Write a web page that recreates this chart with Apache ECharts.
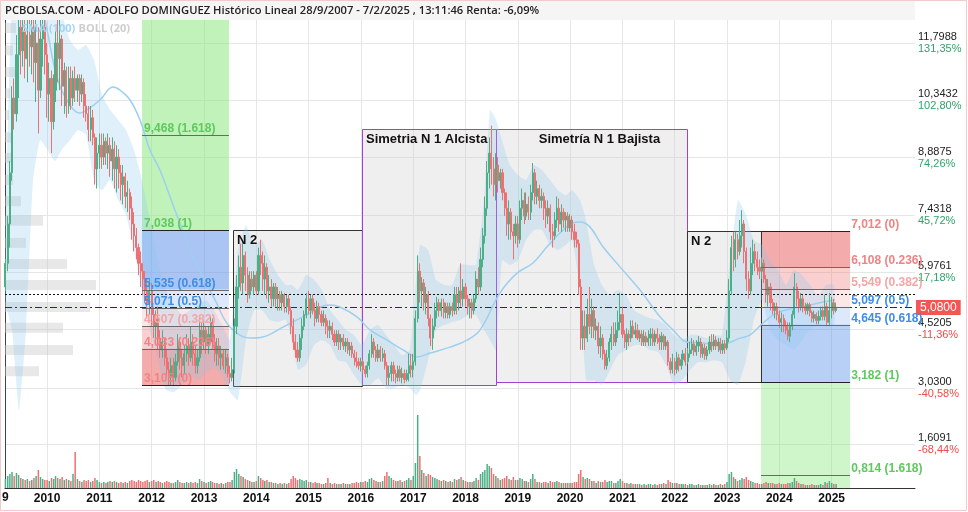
<!DOCTYPE html>
<html><head><meta charset="utf-8">
<script src="https://cdn.jsdelivr.net/npm/echarts@6/dist/echarts.min.js"></script>
<style>html,body{margin:0;padding:0;background:#fff}#c{width:968px;height:512px}</style>
</head><body><div id="c"></div>
<script>
// ---------------- DATA ----------------
const titleText = 'PCBOLSA.COM - ADOLFO DOMINGUEZ Histórico Lineal 28/9/2007 - 7/2/2025 , 13:11:46 Renta: -6,09%';
const firstCandle = [2009, 2, 1]; // year, month index, half (1 = 16th)
// candles per half-month: [open, close, low, high, volume]
const c2009 = [[5.6,6.2,5.5,6.3,9],[6.2,7.2,6.0,7.4,12],[7.2,8.5,6.6,8.8,14],[8.5,10.4,8.3,10.7,16],[10.4,10.0,9.6,10.9,12],[10.0,11.5,9.8,12.0,15],[11.5,12.2,10.4,12.6,13],[12.2,11.6,11.0,12.7,10],[11.6,12.1,11.2,12.6,9],[12.1,11.4,10.9,12.5,8],[11.4,12.0,10.8,12.4,9],[12.0,11.7,11.2,12.6,7],[11.7,12.2,11.0,12.7,8],[12.2,11.3,10.8,12.5,10],[11.3,11.8,10.3,12.4,12],[11.8,10.6,9.5,12.2,18],[10.6,11.9,10.4,12.4,11],[11.9,12.2,11.2,12.7,9],[12.2,11.5,11.0,12.6,8]];
const c2010 = [[11.5,10.5,9.9,11.8,8],[10.5,10.9,9.8,11.3,7],[10.9,9.8,9.0,11.1,10],[9.8,10.6,9.6,11.0,9],[10.6,11.8,10.3,12.1,12],[11.8,11.4,10.8,12.6,10],[11.4,11.9,10.6,12.5,9],[11.9,10.7,10.2,12.0,11],[10.7,11.1,10.0,11.3,8],[11.1,10.2,9.9,11.2,9],[10.2,10.9,10.0,11.2,8],[10.9,10.4,10.1,11.2,7],[10.4,10.9,10.2,11.1,14],[10.9,10.6,10.3,11.2,36],[10.6,10.9,10.3,11.0,9],[10.9,10.5,10.2,11.0,7],[10.5,10.8,10.3,11.0,6],[10.8,10.2,9.9,10.9,8],[10.2,10.0,9.8,10.5,7],[10.0,9.6,9.3,10.2,8],[9.6,9.9,9.3,10.2,6],[9.9,9.4,9.2,10.1,7],[9.4,8.6,8.2,9.5,10],[8.6,9.0,8.1,9.4,8]];
const c2011 = [[9.0,9.2,8.6,9.5,6],[9.2,8.9,8.6,9.5,5],[8.9,9.3,8.7,9.5,6],[9.3,9.0,8.7,9.4,5],[9.0,9.2,8.6,9.5,6],[9.2,8.8,8.4,9.4,7],[8.8,9.1,8.3,9.4,6],[9.1,8.6,8.1,9.3,7],[8.6,8.9,8.0,9.2,6],[8.9,8.5,8.1,9.1,5],[8.5,8.2,7.8,8.7,6],[8.2,8.4,7.7,8.7,5],[8.4,7.9,7.6,8.5,6],[7.9,8.0,7.5,8.3,5],[8.0,7.6,7.3,8.1,7],[7.6,7.2,6.8,7.9,8],[7.2,6.9,6.5,7.5,7],[6.9,6.6,6.3,7.1,6],[6.6,6.2,5.9,6.7,8],[6.2,6.0,5.6,6.5,7],[6.0,5.8,5.4,6.2,6],[5.8,5.5,5.2,6.0,7],[5.5,5.2,4.8,5.8,8],[5.2,5.5,4.9,5.8,6]];
const c2012 = [[5.5,4.9,4.6,5.7,7],[4.9,4.6,4.3,5.1,8],[4.6,4.8,4.2,5.0,6],[4.8,4.3,4.0,5.1,7],[4.3,4.0,3.8,4.5,6],[4.0,4.2,3.8,4.5,5],[4.2,3.8,3.6,4.3,6],[3.8,3.5,3.3,4.0,7],[3.5,3.3,3.1,3.7,6],[3.3,3.6,3.1,3.8,5],[3.6,3.3,3.1,3.8,5],[3.3,3.7,3.2,3.9,6],[3.7,4.2,3.6,4.4,8],[4.2,3.8,3.5,4.3,6],[3.8,3.6,3.3,4.0,5],[3.6,3.9,3.4,4.1,5],[3.9,4.1,3.7,4.4,6],[4.1,3.8,3.6,4.3,5],[3.8,4.2,3.7,4.6,6],[4.2,3.9,3.6,4.4,5],[3.9,3.6,3.4,4.1,6],[3.6,3.8,3.4,4.0,5],[3.8,4.5,3.7,4.8,9],[4.5,4.2,3.9,4.7,7]];
const c2013 = [[4.2,4.5,4.0,4.7,6],[4.5,4.1,3.9,4.6,5],[4.1,4.4,3.9,4.6,6],[4.4,4.7,4.2,4.85,7],[4.7,4.2,4.0,4.8,6],[4.2,3.9,3.7,4.4,5],[3.9,4.1,3.6,4.3,5],[4.1,3.8,3.6,4.3,4],[3.8,3.9,3.5,4.1,5],[3.9,3.6,3.5,4.0,4],[3.6,3.8,3.4,4.0,5],[3.8,3.4,3.3,3.9,6],[3.4,3.3,3.15,3.6,6],[3.3,3.5,3.2,3.8,8],[3.5,4.6,3.4,4.8,16],[4.6,5.6,4.4,5.9,19],[5.6,6.1,5.3,6.4,14],[6.1,5.7,5.5,6.7,12],[5.7,6.4,5.4,6.75,11],[6.4,5.9,5.5,6.5,9],[5.9,5.4,5.2,6.1,8],[5.4,5.8,5.3,6.0,7],[5.8,5.6,5.5,6.0,6],[5.6,5.9,5.4,6.0,6]];
const c2014 = [[5.9,5.5,5.4,6.0,7],[5.5,6.4,5.4,6.6,12],[6.4,6.2,5.9,6.8,10],[6.2,5.8,5.5,6.5,8],[5.8,6.1,5.4,6.4,7],[6.1,5.5,5.3,6.2,8],[5.5,5.6,5.2,5.9,6],[5.6,5.3,5.1,5.8,6],[5.3,5.6,5.1,5.7,5],[5.6,5.3,5.1,5.7,5],[5.3,5.4,5.0,5.6,4],[5.4,5.2,5.0,5.5,5],[5.2,5.4,5.0,5.5,4],[5.4,5.1,4.95,5.45,5],[5.1,5.3,4.95,5.4,4],[5.3,5.0,4.9,5.4,5],[5.0,4.6,4.4,5.1,9],[4.6,4.2,4.0,4.8,12],[4.2,4.0,3.8,4.4,10],[4.0,3.8,3.7,4.2,8],[3.8,4.3,3.7,4.4,9],[4.3,4.6,4.0,4.8,8],[4.6,4.9,4.5,5.0,7],[4.9,5.3,4.8,5.45,8]];
const c2015 = [[5.3,5.0,4.9,5.5,6],[5.0,5.3,4.8,5.4,6],[5.3,5.0,4.9,5.4,5],[5.0,4.8,4.6,5.2,6],[4.8,5.1,4.7,5.25,5],[5.1,4.9,4.7,5.2,5],[4.9,4.7,4.6,5.0,4],[4.7,4.8,4.6,5.0,4],[4.8,4.6,4.4,4.9,5],[4.6,4.5,4.3,4.75,10],[4.5,4.6,4.3,4.75,5],[4.6,4.4,4.25,4.7,4],[4.4,4.2,4.1,4.5,5],[4.2,4.4,4.1,4.5,4],[4.4,4.2,4.0,4.5,4],[4.2,4.3,4.0,4.4,4],[4.3,4.1,4.0,4.4,5],[4.1,4.2,3.95,4.3,4],[4.2,4.0,3.9,4.3,4],[4.0,4.1,3.85,4.2,4],[4.1,3.9,3.8,4.2,5],[3.9,3.8,3.6,4.0,5],[3.8,3.7,3.55,3.95,6],[3.7,3.6,3.5,3.8,5]];
const c2016 = [[3.6,3.7,3.45,3.8,6],[3.7,3.5,3.4,3.75,6],[3.5,3.4,3.3,3.6,7],[3.4,3.6,3.3,3.7,6],[3.6,3.9,3.5,4.0,9],[3.9,4.2,3.8,4.4,10],[4.2,4.0,3.8,4.3,8],[4.0,3.8,3.7,4.1,7],[3.8,4.0,3.7,4.15,6],[4.0,3.8,3.7,4.1,6],[3.8,3.9,3.7,4.05,7],[3.9,3.6,3.5,4.0,12],[3.6,3.3,3.1,3.7,16],[3.3,3.4,3.1,3.6,12],[3.4,3.6,3.2,3.7,10],[3.6,3.4,3.2,3.7,8],[3.4,3.3,3.15,3.5,7],[3.3,3.5,3.2,3.6,7],[3.5,3.3,3.2,3.6,8],[3.3,3.4,3.15,3.55,6],[3.4,3.25,3.15,3.5,7],[3.25,3.4,3.2,3.5,8],[3.4,3.6,3.2,3.9,10],[3.6,3.5,3.3,3.9,8]];
const c2017 = [[3.5,3.7,3.3,3.9,12],[3.7,4.8,3.6,5.0,25],[4.8,6.0,4.7,6.4,73],[6.0,5.5,5.2,6.2,32],[5.5,5.7,5.1,5.85,18],[5.7,5.2,5.0,5.8,15],[5.2,5.4,4.9,5.6,12],[5.4,4.8,4.6,5.5,14],[4.8,4.3,4.1,4.9,13],[4.3,4.6,4.0,4.8,11],[4.6,5.0,4.5,5.2,10],[5.0,5.2,4.8,5.35,9],[5.2,5.0,4.85,5.3,8],[5.0,5.2,4.85,5.3,7],[5.2,4.95,4.8,5.3,8],[4.95,5.1,4.8,5.2,7],[5.1,4.9,4.8,5.2,6],[4.9,5.1,4.8,5.2,7],[5.1,5.0,4.85,5.2,6],[5.0,5.4,4.9,5.6,9],[5.4,5.2,4.9,5.6,8],[5.2,5.5,5.0,5.6,9],[5.5,5.3,5.1,6.2,11],[5.3,5.6,5.1,5.8,8]];
const c2018 = [[5.6,5.3,5.1,5.7,7],[5.3,5.1,4.9,5.4,6],[5.1,5.2,4.8,5.3,6],[5.2,5.0,4.8,5.3,6],[5.0,5.3,4.9,5.4,7],[5.3,5.8,5.2,6.0,10],[5.8,5.6,5.4,6.1,8],[5.6,6.3,5.5,6.6,14],[6.3,6.9,6.1,7.1,16],[6.9,7.6,6.7,7.9,18],[7.6,8.5,7.4,8.8,24],[8.5,9.0,8.1,9.4,22],[9.0,8.6,8.2,9.7,20],[8.6,8.2,7.9,8.9,14],[8.2,8.7,7.8,9.0,12],[8.7,8.3,8.0,8.9,10],[8.3,8.5,8.1,8.6,8],[8.5,8.0,7.8,8.6,9],[8.0,7.6,7.4,8.1,10],[7.6,7.2,6.9,8.0,12],[7.2,7.5,6.8,7.8,9],[7.5,7.0,6.8,7.6,8],[7.0,6.9,6.3,7.2,11],[6.9,7.2,6.7,7.4,8]];
const c2019 = [[7.2,6.8,6.6,7.4,8],[6.8,7.6,6.7,7.8,10],[7.6,7.8,7.3,8.1,9],[7.8,7.4,7.2,8.0,7],[7.4,7.7,7.3,8.0,7],[7.7,7.5,7.3,7.9,6],[7.5,8.0,7.3,8.2,9],[8.0,8.5,7.8,8.75,14],[8.5,7.9,7.7,8.6,9],[7.9,8.1,7.7,8.3,6],[8.1,7.8,7.6,8.2,6],[7.8,7.9,7.6,8.1,5],[7.9,7.6,7.3,8.0,6],[7.6,7.4,7.1,7.8,6],[7.4,7.6,7.2,7.8,5],[7.6,7.0,6.8,7.7,7],[7.0,6.9,6.6,7.2,6],[6.9,7.3,6.8,7.5,6],[7.3,7.6,7.1,7.9,7],[7.6,7.2,7.0,7.85,6],[7.2,7.5,7.0,7.7,5],[7.5,7.3,7.1,7.6,5],[7.3,7.4,7.0,7.5,5],[7.4,7.1,7.0,7.5,5]];
const c2020 = [[7.1,7.3,7.0,7.45,5],[7.3,7.0,6.8,7.4,5],[7.0,6.8,6.6,7.2,6],[6.8,6.7,6.6,7.0,6],[6.7,5.6,5.4,6.8,14],[5.6,4.3,4.0,5.8,18],[4.3,4.6,4.0,5.0,11],[4.6,4.3,4.0,5.0,9],[4.3,4.9,4.2,5.3,10],[4.9,4.6,4.4,5.6,9],[4.6,5.0,4.3,5.3,7],[5.0,4.5,4.3,5.1,7],[4.5,4.6,4.25,4.8,5],[4.6,4.1,3.9,4.7,7],[4.1,4.3,3.8,4.6,6],[4.3,3.9,3.75,4.4,6],[3.9,3.6,3.5,4.0,8],[3.6,3.8,3.5,4.0,6],[3.8,4.2,3.7,4.3,7],[4.2,4.4,4.0,4.6,7],[4.4,4.2,4.1,4.7,5],[4.2,4.5,4.1,4.7,5],[4.5,4.7,4.3,5.0,7],[4.7,4.9,4.5,5.45,9]];
const c2021 = [[4.9,4.4,4.3,5.1,7],[4.4,4.2,4.05,4.5,5],[4.2,4.4,4.0,4.55,5],[4.4,4.3,4.1,4.5,4],[4.3,4.6,4.2,4.75,5],[4.6,4.4,4.3,4.75,4],[4.4,4.5,4.3,4.7,4],[4.5,4.3,4.25,4.65,4],[4.3,4.4,4.2,4.5,4],[4.4,4.2,4.1,4.5,3],[4.2,4.35,4.1,4.5,4],[4.35,4.2,4.1,4.45,3],[4.2,4.3,4.1,4.5,4],[4.3,4.4,4.1,4.55,4],[4.4,4.2,4.1,4.55,3],[4.2,4.4,4.1,4.5,4],[4.4,4.3,4.15,4.55,3],[4.3,4.2,4.0,4.4,4],[4.2,4.35,4.0,4.45,4],[4.35,4.1,4.0,4.4,5],[4.1,4.2,4.0,4.35,4],[4.2,3.7,3.6,4.25,8],[3.7,3.5,3.4,3.8,6],[3.5,3.7,3.4,3.9,5]];
const c2022 = [[3.7,3.5,3.35,3.8,5],[3.5,3.8,3.4,3.95,5],[3.8,3.6,3.45,3.9,4],[3.6,3.75,3.5,3.9,4],[3.75,3.9,3.6,4.0,4],[3.9,3.7,3.6,4.05,4],[3.7,3.9,3.65,4.05,3],[3.9,4.0,3.8,4.2,4],[4.0,4.15,3.9,4.3,4],[4.15,3.95,3.85,4.25,3],[3.95,4.1,3.85,4.25,3],[4.1,4.2,3.95,4.35,4],[4.2,3.9,3.8,4.3,3],[3.9,4.05,3.8,4.15,3],[4.05,3.85,3.75,4.15,3],[3.85,4.0,3.75,4.1,3],[4.0,4.2,3.9,4.35,4],[4.2,4.1,3.95,4.4,3],[4.1,4.25,4.0,4.4,4],[4.25,4.1,4.0,4.35,3],[4.1,4.2,3.95,4.3,3],[4.2,4.0,3.9,4.3,4],[4.0,4.15,3.9,4.25,3],[4.15,4.05,3.9,4.25,4]];
const c2023 = [[4.05,4.3,4.0,4.5,6],[4.3,5.5,4.2,5.8,14],[5.5,6.6,5.4,6.9,16],[6.6,6.3,6.0,7.0,11],[6.3,6.8,6.1,7.0,9],[6.8,6.5,6.3,6.95,7],[6.5,6.9,6.4,7.3,8],[6.9,7.2,6.6,7.55,10],[7.2,6.5,6.2,7.3,9],[6.5,5.8,5.5,6.6,11],[5.8,5.5,5.3,6.0,8],[5.5,6.2,5.4,6.6,7],[6.2,6.5,5.9,6.8,6],[6.5,6.3,6.0,6.7,5],[6.3,6.1,5.9,6.5,5],[6.1,6.0,5.8,6.3,4],[6.0,6.2,5.8,6.35,4],[6.2,5.8,5.7,6.3,5],[5.8,5.4,5.2,5.9,6],[5.4,5.6,5.1,5.8,5],[5.6,5.2,5.0,5.7,5],[5.2,5.0,4.9,5.3,5],[5.0,5.1,4.8,5.2,4],[5.1,4.9,4.75,5.2,4]];
const c2024 = [[4.9,4.7,4.55,5.0,5],[4.7,4.8,4.45,4.95,4],[4.8,4.6,4.45,4.9,4],[4.6,4.5,4.4,4.75,4],[4.5,4.35,4.25,4.7,5],[4.35,4.6,4.2,4.7,5],[4.6,4.9,4.5,5.0,6],[4.9,5.6,4.8,5.95,10],[5.6,5.3,5.1,5.7,7],[5.3,5.1,4.95,5.5,5],[5.1,5.3,5.0,5.45,4],[5.3,5.1,4.95,5.4,4],[5.1,5.0,4.9,5.2,3],[5.0,5.15,4.9,5.2,3],[5.15,4.95,4.85,5.2,3],[4.95,4.8,4.7,5.0,4],[4.8,4.9,4.7,5.0,3],[4.9,4.75,4.65,4.95,3],[4.75,4.85,4.65,5.0,3],[4.85,5.0,4.75,5.1,4],[5.0,4.85,4.75,5.1,3],[4.85,5.1,4.75,5.4,6],[5.1,4.7,4.6,5.2,5],[4.7,5.0,4.6,5.45,7]];
const c2025 = [[5.0,5.2,4.8,5.35,5],[5.2,5.0,4.9,5.3,4],[5.0,5.08,4.95,5.2,4]];

const smaDates = ['2009-12-11','2010-01-01','2010-03-10','2010-05-19','2010-08-18','2010-10-07','2011-01-05','2011-04-06','2011-05-25','2011-08-03','2011-10-12','2011-12-20','2012-02-28','2012-06-12','2012-10-29','2013-03-19','2013-07-01','2013-11-18','2014-02-17','2014-07-06','2014-11-23','2015-05-31','2015-08-08','2015-12-05','2016-03-05','2016-07-02','2016-10-22','2017-01-28','2017-04-29','2017-09-15','2018-01-12','2018-04-13','2018-08-30','2018-12-27','2019-04-17','2019-07-24','2019-10-23','2020-01-22','2020-03-11','2020-05-20','2020-08-18','2020-12-15','2021-05-04','2021-09-20','2021-12-20','2022-03-27','2022-06-27','2022-11-13','2023-04-02','2023-06-11','2023-09-09','2023-12-16','2024-04-07','2024-08-03','2024-11-01','2025-01-25'];
const smaValues = [12.5,12.13,10.94,10.35,10.02,10.10,10.35,10.68,10.60,10.35,9.84,9.08,8.57,7.55,6.28,5.27,4.58,4.30,4.33,4.58,4.84,5.14,5.09,4.84,4.51,4.25,4.00,3.82,3.92,4.07,4.25,4.51,5.45,5.95,6.21,6.62,6.97,7.23,7.25,7.12,6.62,6.11,5.52,4.84,4.51,4.20,4.18,4.13,4.30,4.38,4.68,4.94,5.06,5.14,5.22,5.27];

const bollDates = ['2009-03-13','2009-05-01','2009-06-19','2009-08-07','2009-09-25','2009-11-13','2010-01-01','2010-02-25','2010-04-15','2010-06-10','2010-08-05','2010-09-30','2010-11-25','2011-01-20','2011-03-17','2011-05-12','2011-07-06','2011-08-31','2011-10-26','2011-12-20','2012-02-14','2012-04-10','2012-06-04','2012-07-30','2012-09-24','2012-11-19','2013-01-15','2013-03-12','2013-05-07','2013-07-01','2013-08-26','2013-10-21','2013-12-16','2014-02-10','2014-04-07','2014-06-02','2014-07-27','2014-09-07','2014-10-19','2014-12-14','2015-02-08','2015-04-05','2015-05-31','2015-07-25','2015-09-19','2015-11-13','2016-01-09','2016-03-05','2016-04-30','2016-06-25','2016-08-20','2016-10-15','2016-12-09','2017-01-21','2017-02-18','2017-04-15','2017-06-09','2017-08-04','2017-09-29','2017-11-24','2018-01-19','2018-03-15','2018-05-10','2018-06-21','2018-08-02','2018-09-13','2018-11-07','2019-01-03','2019-02-28','2019-04-24','2019-06-19','2019-08-14','2019-10-09','2019-12-03','2020-01-15','2020-03-11','2020-04-22','2020-06-17','2020-08-11','2020-10-06','2020-12-01','2021-01-26','2021-03-23','2021-05-18','2021-07-12','2021-09-06','2021-11-01','2021-12-27','2022-02-21','2022-04-18','2022-06-13','2022-08-08','2022-10-02','2022-11-27','2023-01-22','2023-03-19','2023-05-14','2023-07-08','2023-09-02','2023-10-28','2023-12-23','2024-02-17','2024-04-13','2024-06-08','2024-08-03','2024-09-28','2024-11-23','2025-01-18'];
const bollUpper = [6.8,13.0,13.5,13.5,13.3,13.3,12.7,12.7,12.5,11.87,11.62,11.75,11.37,10.48,10.10,9.84,9.59,9.08,8.32,7.30,6.28,5.52,5.14,4.89,5.01,5.14,5.27,5.01,4.63,4.25,6.54,7.17,6.67,6.79,6.28,5.90,5.65,5.65,5.52,5.90,5.78,5.52,5.01,4.76,4.51,4.38,4.12,4.51,4.63,4.38,4.12,3.87,4.00,5.78,6.66,6.54,5.78,5.65,5.65,6.16,6.16,6.16,7.81,10.10,9.84,9.33,8.70,8.44,8.32,8.70,8.57,8.32,8.06,7.93,8.06,7.81,7.30,6.16,5.65,5.39,5.52,5.39,5.01,4.89,4.81,4.76,4.63,4.38,4.25,4.38,4.38,4.30,4.38,4.38,6.28,7.81,7.43,6.79,6.67,6.28,6.03,5.65,6.03,5.90,5.65,5.39,5.65,5.65];
const bollLower = [5.3,4.51,2.47,4.51,8.32,9.33,9.1,8.8,9.1,9.33,9.59,9.46,8.32,8.06,8.32,7.81,7.43,6.54,5.52,4.51,3.74,2.98,2.93,3.11,3.36,3.23,3.43,3.54,3.36,2.93,2.73,4.25,5.01,5.01,4.76,4.71,4.76,4.25,3.49,3.62,4.12,4.25,4.12,3.74,3.69,3.36,3.11,3.11,3.28,3.03,3.03,3.11,3.03,2.85,2.98,3.74,4.51,4.63,4.71,4.76,4.89,4.89,4.51,4.25,4.00,6.28,6.16,6.28,6.79,7.05,7.05,6.67,6.54,6.67,6.79,5.52,3.23,3.23,3.11,3.49,3.87,4.00,4.12,4.12,4.00,3.95,3.62,3.11,3.23,3.49,3.69,3.69,3.74,3.69,3.23,3.11,3.74,4.76,5.27,4.51,4.25,4.12,4.00,4.25,4.51,4.63,4.63,4.63];

const profilePrices = [12.18,11.61,11.06,10.52,9.97,9.40,8.88,8.32,7.78,7.28,6.72,6.18,5.65,5.09,4.56,4.00,3.46];
const profileVolumes = [11,8,11,5,4,8,7,8,16,38,21,62,91,85,58,68,34];

const priceTicks = [1.6091,3.0300,4.5205,5.9761,7.4318,8.8875,10.3432,11.7988];
const priceTickLabels = ['1,6091','3,0300','4,5205','5,9761','7,4318','8,8875','10,3432','11,7988'];
const pctTickLabels = ['-68,44%','-40,58%','-11,36%','17,18%','45,72%','74,26%','102,80%','131,35%'];
const yearTicks = ['2010-01-01','2011-01-01','2012-01-01','2013-01-01','2014-01-01','2015-01-01','2016-01-01','2017-01-01','2018-01-01','2019-01-01','2020-01-01','2021-01-01','2022-01-01','2023-01-01','2024-01-01','2025-01-01'];
const yearLabels = ['2010','2011','2012','2013','2014','2015','2016','2017','2018','2019','2020','2021','2022','2023','2024','2025'];

const lastPrice = 5.08, lastPriceLabel = '5,0800';
const dottedLevel = 5.41;

const fibLeftRange = ['2011-10-26','2013-06-24'];
const fibLeftLevels = [9.468,7.038,5.535,5.071,4.607,4.033,3.105];
const fibLeftLabels = ['9,468 (1.618)','7,038 (1)','5,535 (0.618)','5,071 (0.5)','4,607 (0.382)','4,033 (0.236)','3,105 (0)'];
const fibRightRange = ['2023-08-26','2025-05-10'];
const fibRightLevels = [7.012,6.108,5.549,5.097,4.645,3.182,0.814];
const fibRightLabels = ['7,012 (0)','6,108 (0.236)','5,549 (0.382)','5,097 (0.5)','4,645 (0.618)','3,182 (1)','0,814 (1.618)'];

const boxStart = ['2013-07-23','2016-01-09','2018-08-02','2022-03-27'];
const boxEnd = ['2016-01-09','2018-08-02','2022-03-27','2023-08-26'];
const boxTop = [7.038,9.61,9.61,7.012];
const boxBottom = [3.08,3.11,3.18,3.182];
const boxLabels = ['N 2','Simetria N 1 Alcista','Simetría N 1 Bajista','N 2'];

// ---------------- CHART ----------------
const T = s => Date.parse(s);
const Y_MIN = 0.491, Y_MAX = 12.3833;
const X_MIN = T('2009-03-13'), X_MAX = T('2026-08-06');
const UP = '#4caf87', DOWN = '#ef7070';
const FONT = '"Liberation Sans", Arial, sans-serif';

const allCandles = [].concat(c2009,c2010,c2011,c2012,c2013,c2014,c2015,c2016,c2017,c2018,c2019,c2020,c2021,c2022,c2023,c2024,c2025);
const n0 = firstCandle[0]*24 + firstCandle[1]*2 + firstCandle[2];
const candleData = [], volData = [];
allCandles.forEach((c,i)=>{
  const n = n0 + i;
  const t = Date.UTC(Math.floor(n/24), Math.floor((n%24)/2), (n%2) ? 16 : 1);
  candleData.push([t, c[0], c[1], c[2], c[3]]);
  volData.push({value:[t, c[4]], itemStyle:{color: c[1] >= c[0] ? UP : DOWN}});
});
const yearTs = yearTicks.map(T);

const zones = [], zoneColors = [];
const GREEN='rgba(140,232,130,0.55)', GREEN2='rgba(140,232,130,0.42)', BLUE='rgba(100,150,235,0.55)', BLUE2='rgba(100,150,235,0.45)', LBLUE='rgba(100,150,235,0.22)', LPINK='rgba(240,130,130,0.2)', PINK='rgba(240,130,130,0.38)', RED='rgba(236,120,120,0.62)';
const lTops=[Y_MAX].concat(fibLeftLevels.slice(1,6)), lBots=fibLeftLevels.slice(1);
const lCols=[GREEN,BLUE,LBLUE,LPINK,PINK,RED];
lTops.forEach((t,i)=>{zones.push([T(fibLeftRange[0]),T(fibLeftRange[1]),t,lBots[i]]); zoneColors.push(lCols[i]);});
const rTops=fibRightLevels.slice(0,6), rBots=fibRightLevels.slice(1,6).concat([Y_MIN]);
const rCols=[RED,PINK,LPINK,LBLUE,BLUE2,GREEN2];
rTops.forEach((t,i)=>{zones.push([T(fibRightRange[0]),T(fibRightRange[1]),t,rBots[i]]); zoneColors.push(rCols[i]);});

const fibItems = [], fibMeta = [];
const lLabCol=['#5fc85f','#5fc85f','#3f8de6','#3f8de6','#f4a6a6','#f08484','#f08484'];
const rLabCol=['#f08484','#f08484','#f4a6a6','#3f8de6','#3f8de6','#5fc85f','#5fc85f'];
fibLeftLevels.forEach((l,i)=>{fibItems.push([T(fibLeftRange[0]),T(fibLeftRange[1]),l]); fibMeta.push({text:fibLeftLabels[i], color:lLabCol[i], side:'in', strong:(i===1||i===6)});});
fibRightLevels.forEach((l,i)=>{fibItems.push([T(fibRightRange[0]),T(fibRightRange[1]),l]); fibMeta.push({text:fibRightLabels[i], color:rLabCol[i], side:'out', strong:(i===0||i===5)});});

const boxData = boxStart.map((s,i)=>[T(s),T(boxEnd[i]),boxTop[i],boxBottom[i]]);
const boxBorder = ['#333','#a040d6','#a040d6','#333'];

const rectFrom = (api)=>{
  const a = api.coord([api.value(0), api.value(2)]), b = api.coord([api.value(1), api.value(3)]);
  return {x:a[0], y:a[1], width:b[0]-a[0], height:b[1]-a[1]};
};

const option = {
  animation:false,
  backgroundColor:'#ffffff',
  grid:[{left:5,right:53,top:20,bottom:24},{left:5,right:53,top:388,bottom:24}],
  xAxis:[
    {type:'value', gridIndex:0, min:X_MIN, max:X_MAX,
     axisLine:{lineStyle:{color:'#333',width:1}}, axisTick:{show:false, customValues:yearTs},
     axisLabel:{customValues:yearTs, formatter:(v)=>{const i=yearTs.indexOf(v); return i>=0?yearLabels[i]:'';}, color:'#111', fontWeight:'bold', fontSize:12, fontFamily:FONT, margin:5},
     splitLine:{show:true, lineStyle:{color:'#e6e6e6'}}},
    {type:'value', gridIndex:1, min:X_MIN, max:X_MAX, show:false},
    {type:'value', gridIndex:0, min:0, max:910, show:false}
  ],
  yAxis:[
    {type:'value', gridIndex:0, position:'right', min:Y_MIN, max:Y_MAX,
     axisLine:{show:true, lineStyle:{color:'#444'}}, axisTick:{show:false, customValues:priceTicks},
     axisLabel:{customValues:priceTicks, margin:3,
       formatter:(v)=>{const i=priceTicks.findIndex(p=>Math.abs(p-v)<1e-6); if(i<0) return ''; const pc=pctTickLabels[i]; return '{p|'+priceTickLabels[i]+'}\n{'+(pc[0]==='-'?'r':'g')+'|'+pc+'}';},
       rich:{p:{color:'#222',fontSize:11,lineHeight:12,fontFamily:FONT}, g:{color:'#2ea36c',fontSize:11,lineHeight:12,fontFamily:FONT}, r:{color:'#f04a4a',fontSize:11,lineHeight:12,fontFamily:FONT}}},
     splitLine:{show:true, lineStyle:{color:'#e6e6e6'}}},
    {type:'value', gridIndex:1, min:0, max:100, show:false}
  ],
  series:[
    {type:'custom', name:'profile', xAxisIndex:2, yAxisIndex:0, z:1, silent:true,
     data: profilePrices.map((p,i)=>[profileVolumes[i], p]), encode:{x:0,y:1},
     renderItem:(params, api)=>{
       const a = api.coord([0, api.value(1)+0.127]), b = api.coord([api.value(0), api.value(1)-0.127]);
       return {type:'rect', shape:{x:a[0], y:a[1], width:b[0]-a[0], height:b[1]-a[1]}, style:{fill:'rgba(200,200,200,0.42)'}};
     }},
    {type:'custom', name:'zones', xAxisIndex:0, yAxisIndex:0, z:2, silent:true, clip:true,
     data: zones, encode:{x:[0,1], y:[2,3]},
     renderItem:(params, api)=>({type:'rect', shape:rectFrom(api), style:{fill:zoneColors[params.dataIndex]}})},
    {type:'custom', name:'boxes', xAxisIndex:0, yAxisIndex:0, z:3, silent:true,
     data: boxData, encode:{x:[0,1], y:[2,3]},
     renderItem:(params, api)=>{const r=rectFrom(api); return {type:'rect', shape:{x:Math.round(r.x)+0.5, y:Math.round(r.y)+0.5, width:Math.round(r.width), height:Math.round(r.height)}, style:{fill:'rgba(205,205,205,0.32)', stroke:boxBorder[params.dataIndex], lineWidth:1}};}},
    {type:'custom', name:'BOLL (20)', xAxisIndex:0, yAxisIndex:0, z:4, silent:true, clip:true,
     data: bollDates.map((d,i)=>[T(d), bollUpper[i], bollLower[i]]), encode:{x:0, y:[1,2]},
     renderItem:(params, api)=>{
       if (params.dataIndex !== 0) return {type:'group', children:[]};
       const pts = [];
       bollDates.forEach((d,i)=>pts.push(api.coord([T(d), bollUpper[i]])));
       for (let i=bollDates.length-1;i>=0;i--) pts.push(api.coord([T(bollDates[i]), bollLower[i]]));
       return {type:'polygon', shape:{points:pts, smooth:0.15}, style:{fill:'rgba(135,200,240,0.27)'}};
     }},
    {type:'line', name:'SMA (100)', xAxisIndex:0, yAxisIndex:0, z:5, silent:true, showSymbol:false, smooth:0.4,
     data: smaDates.map((d,i)=>[T(d), smaValues[i]]),
     lineStyle:{color:'#9dcff0', width:1.5},
     markLine:{silent:true, symbol:['none','none'], animation:false,
       data:[
         {yAxis:dottedLevel, lineStyle:{color:'#111', type:[2,2], width:1}, label:{show:false}},
         {yAxis:lastPrice, lineStyle:{color:'#1a1acc', type:[7,3,2,3], width:1},
          label:{show:true, position:'end', distance:1, formatter:lastPriceLabel, color:'#fff', backgroundColor:'#f25656', padding:[2,4,1,4], fontSize:12, fontFamily:FONT}}
       ]}},
    {type:'candlestick', name:'price', xAxisIndex:0, yAxisIndex:0, z:6, silent:true, barWidth:1.6,
     data: candleData,
     itemStyle:{color:UP, color0:DOWN, borderColor:UP, borderColor0:DOWN, borderWidth:1}},
    {type:'bar', name:'vol', xAxisIndex:1, yAxisIndex:1, z:6, silent:true, barWidth:1.5, data: volData},
    {type:'custom', name:'fib', xAxisIndex:0, yAxisIndex:0, z:7, silent:true,
     data: fibItems, encode:{x:[0,1], y:2},
     renderItem:(params, api)=>{
       const m = fibMeta[params.dataIndex];
       const a = api.coord([api.value(0), api.value(2)]), b = api.coord([api.value(1), api.value(2)]);
       const y = Math.round(a[1])+0.5;
       return {type:'group', children:[
         {type:'line', shape:{x1:a[0], y1:y, x2:b[0], y2:y}, style:{stroke:m.strong?'#222':'#6a6a6a', lineWidth:1}},
         {type:'text', x:(m.side==='in'? a[0]+2 : b[0]+1), y:y-1, style:{text:m.text, fill:m.color, font:'bold 12px '+FONT, verticalAlign:'bottom', align:'left'}}
       ]};
     }},
    {type:'custom', name:'boxlabels', xAxisIndex:0, yAxisIndex:0, z:8, silent:true,
     data: boxData, encode:{x:[0,1], y:[2,3]},
     renderItem:(params, api)=>{
       const r = rectFrom(api); const i = params.dataIndex; const center = (i===2);
       return {type:'text', x: center ? r.x + r.width/2 + 8 : r.x + 4, y: r.y + 4,
         style:{text:boxLabels[i], fill:'#111', font:'bold 13px '+FONT, align: center?'center':'left', verticalAlign:'top'}};
     }}
  ],
  graphic:{elements:[
    {type:'rect', z:100, shape:{x:1, y:1, width:914, height:19}, style:{fill:'#f5f5f5'}},
    {type:'text', z:101, x:5, y:11, style:{text:titleText, fill:'#222', font:'600 11.2px "Open Sans", sans-serif', verticalAlign:'middle'}},
    {type:'text', z:101, x:22, y:29, style:{text:'{a|SMA (100)} {b|BOLL (20)}', verticalAlign:'middle', rich:{a:{fill:'#a6d3f3', font:'bold 11px "Open Sans", sans-serif'}, b:{fill:'#cdcdcd', font:'bold 11px "Open Sans", sans-serif'}}}},
    {type:'text', z:101, x:2, y:498, style:{text:'9', fill:'#111', font:'bold 12px '+FONT, verticalAlign:'middle'}},
    {type:'rect', z:102, shape:{x:0.5, y:0.5, width:966, height:510}, style:{fill:'none', stroke:'#f1caca', lineWidth:1}}
  ]}
};
const chart = echarts.init(document.getElementById('c'));
chart.setOption(option);
</script></body></html>
